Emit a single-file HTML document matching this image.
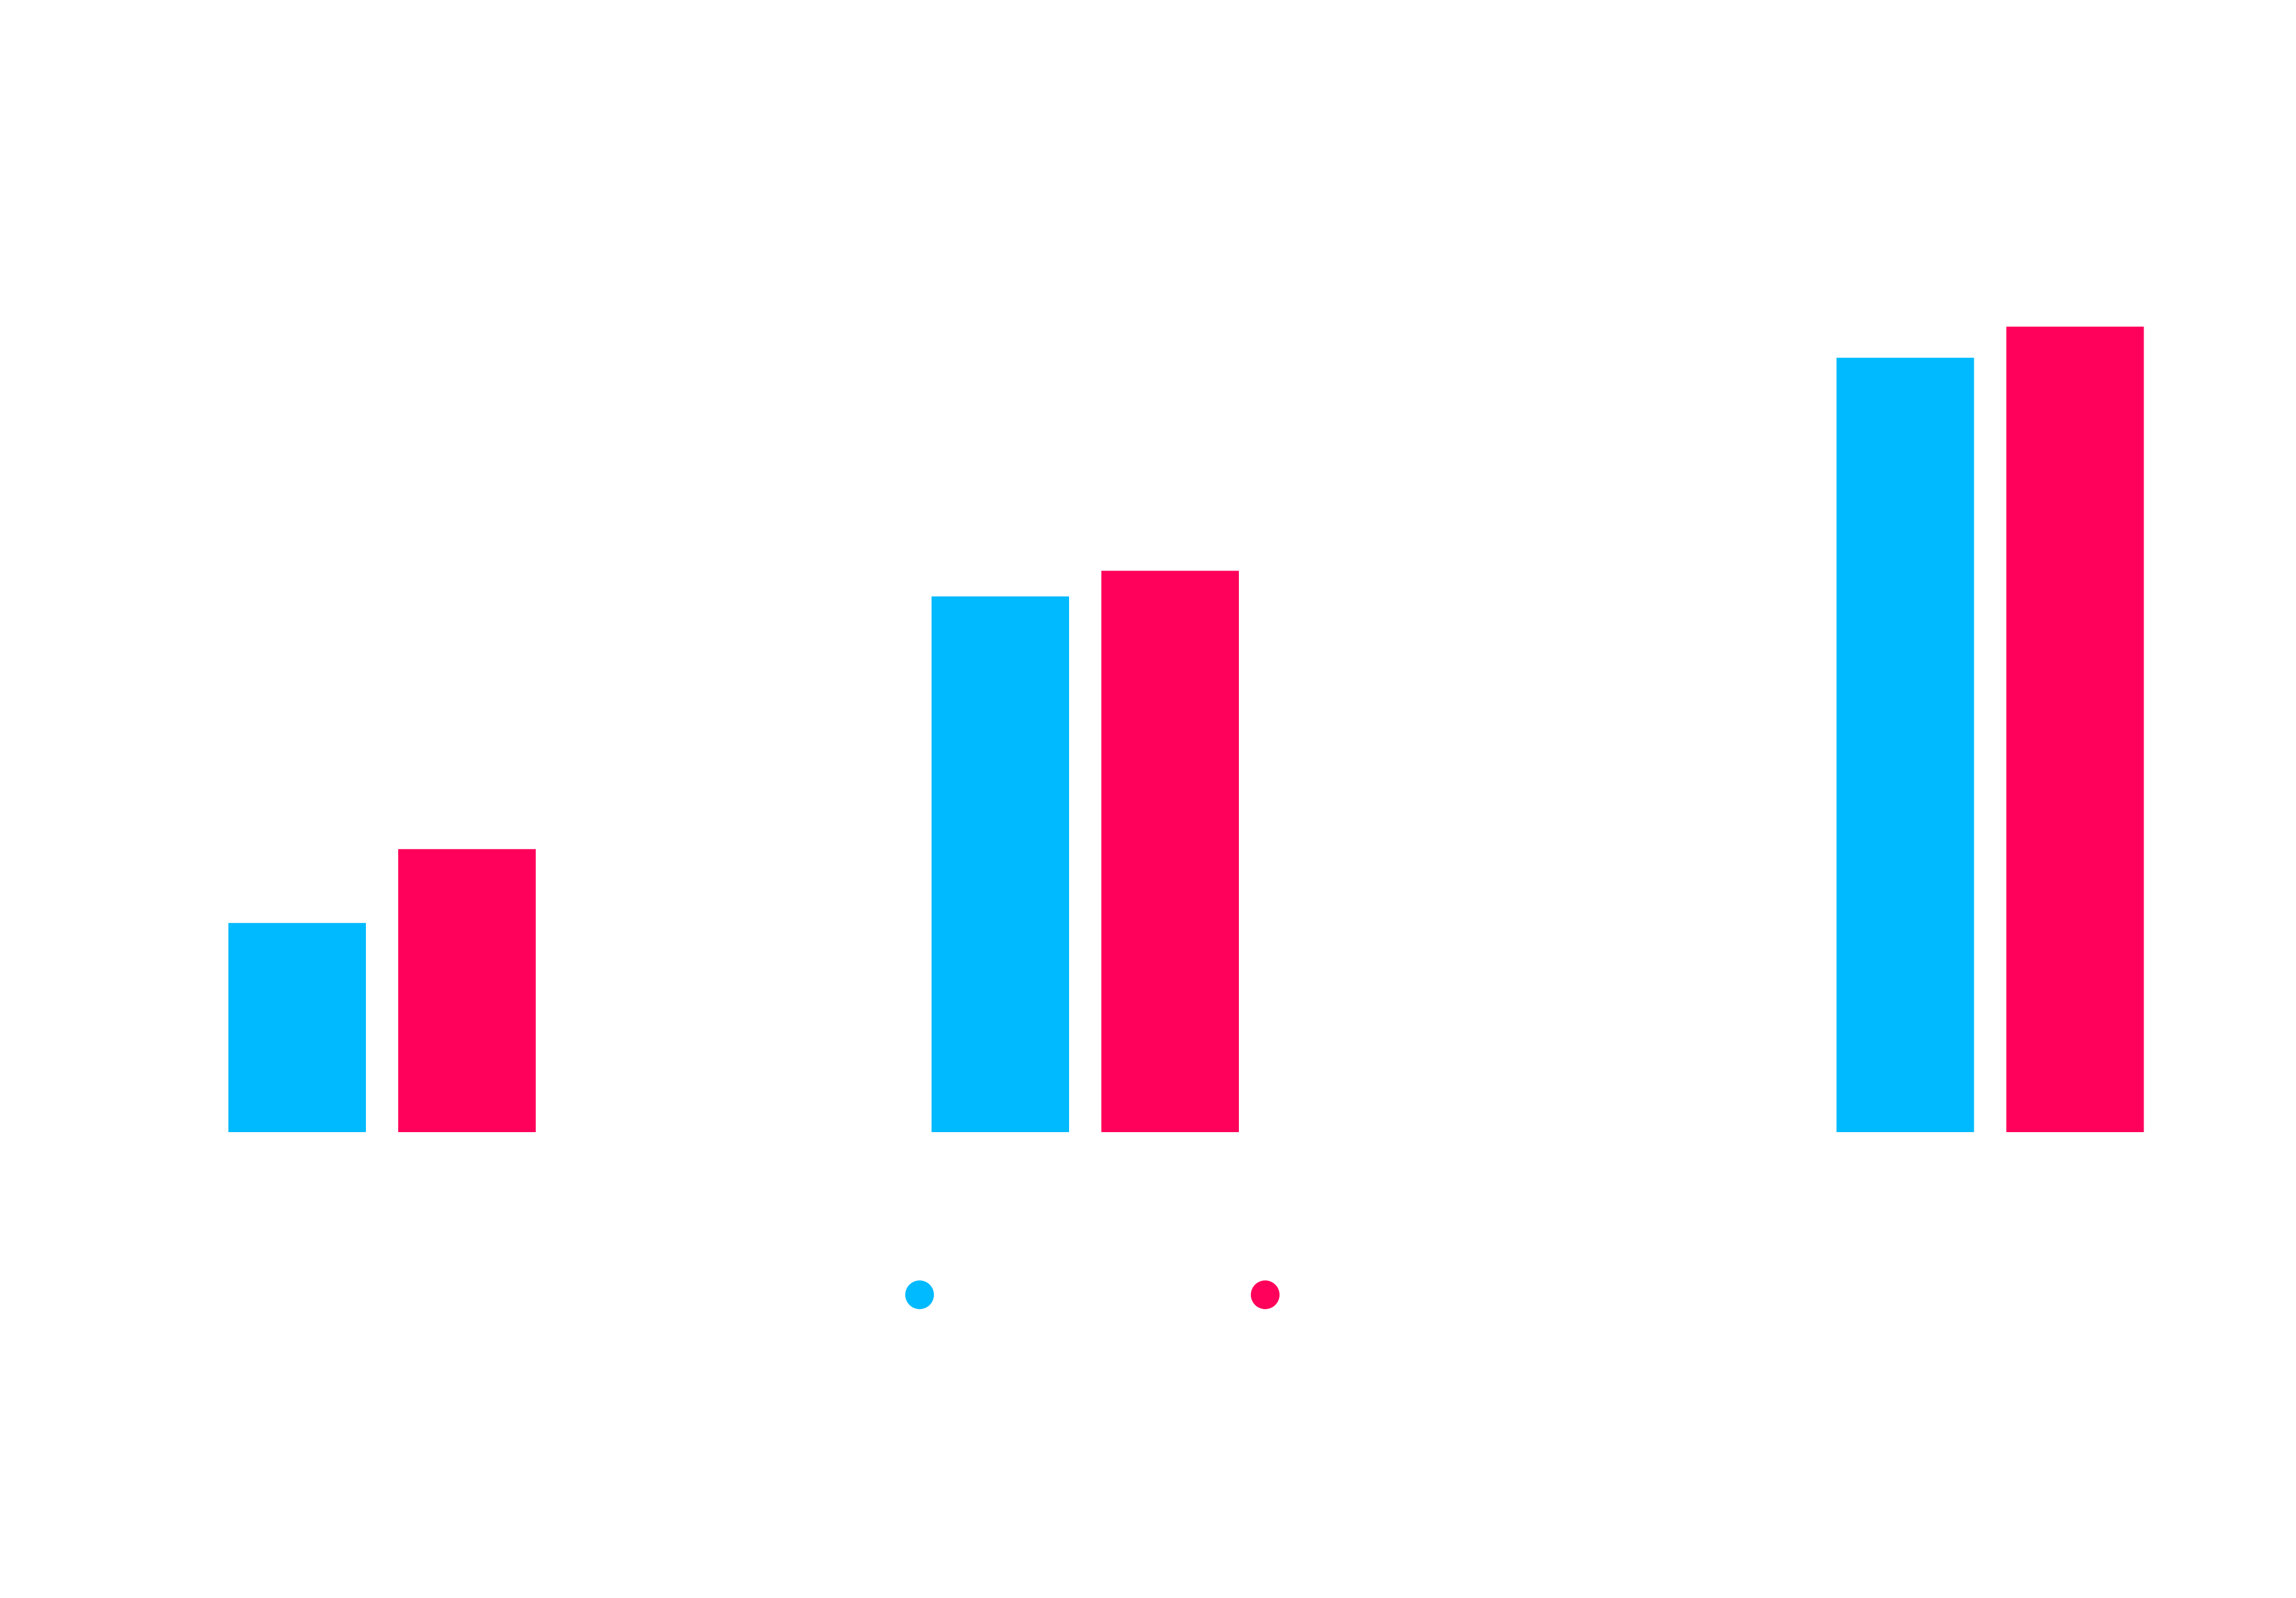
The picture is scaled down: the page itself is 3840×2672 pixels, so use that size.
<!DOCTYPE html>
<html><head><meta charset="utf-8"><style>
html,body{margin:0;padding:0;background:#fff;}
svg{display:block;}
</style></head><body>
<svg id="chart" width="3840" height="2672" viewBox="0 0 3840 2672" xmlns="http://www.w3.org/2000/svg">
<rect width="3840" height="2672" fill="#fff"/>
<g id="bars"></g>
<g id="legend"></g>
</svg>
<script>
const categories = ["A", "B", "C"];
const categoryX = [1, 2, 3.287];
const seriesNames = ["Series 1", "Series 2"];
const series1 = [26.9, 68.9, 99.6];
const series2 = [36.4, 72.2, 103.6];

const colors = ["#00BAFF", "#FF005A"];
const baseline = 1893, pxPerUnit = 13;
function yScale(v){ return baseline - v * pxPerUnit; }
function xScale(c){ return 639 + (c - 1) * 1176; }
const barW = 230, gap = 54;
const ns = "http://www.w3.org/2000/svg";
const g = document.getElementById('bars');
[series1, series2].forEach((vals, si) => {
  vals.forEach((v, i) => {
    const r = document.createElementNS(ns, 'rect');
    const cx = xScale(categoryX[i]);
    const x = si === 0 ? cx - gap/2 - barW : cx + gap/2;
    r.setAttribute('x', x);
    r.setAttribute('y', yScale(v));
    r.setAttribute('width', barW);
    r.setAttribute('height', baseline - yScale(v));
    r.setAttribute('fill', colors[si]);
    
    
    g.appendChild(r);
  });
});
const lg = document.getElementById('legend');
const legendX = [1538, 2116];
seriesNames.forEach((n, i) => {
  const c = document.createElementNS(ns, 'circle');
  c.setAttribute('cx', legendX[i]);
  c.setAttribute('cy', 2165);
  c.setAttribute('r', 24);
  c.setAttribute('fill', colors[i]);
  
  
  lg.appendChild(c);
});
</script>
</body></html>
